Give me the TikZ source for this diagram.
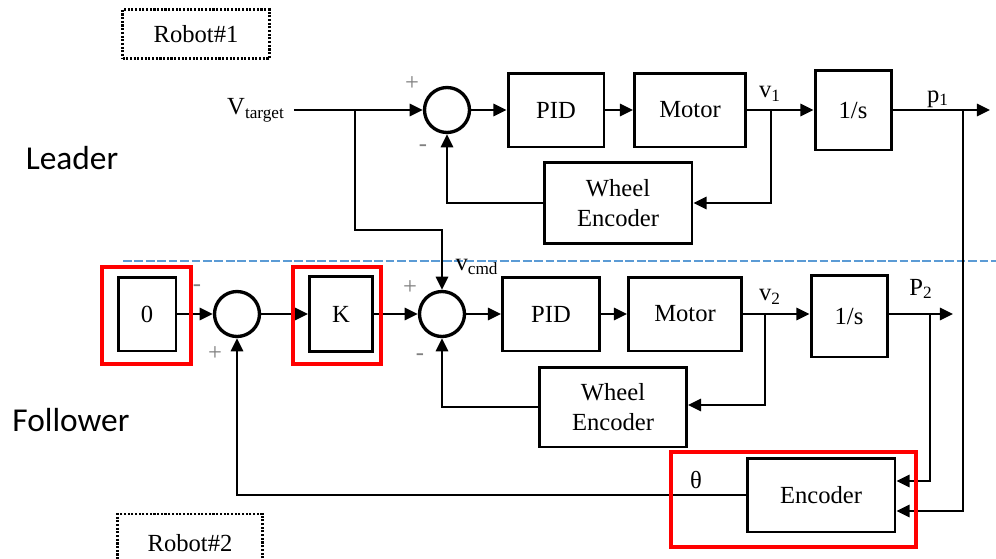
\documentclass[tikz,border=0pt]{standalone}
\usepackage{fontspec}
\setmainfont{Liberation Serif}
\newfontfamily\calibri{Carlito}
\usetikzlibrary{arrows.meta,positioning}

\begin{document}
\begin{tikzpicture}[
    x=0.02cm, y=-0.02cm,
    box/.style={rectangle, draw, line width=1.7pt, align=center, inner sep=0pt, font=\fontsize{14pt}{17pt}\selectfont},
    sum/.style={circle, draw, line width=1.9pt, minimum size=0.9cm, inner sep=0pt},
    arrow/.style={-{Triangle[length=7.5pt,width=7pt]}, line width=1.3pt},
    lbl/.style={inner sep=0pt, font=\fontsize{14pt}{17pt}\selectfont},
    sign/.style={inner sep=0pt, text=gray, font=\fontsize{14pt}{16pt}\selectfont},
    robot/.style={rectangle, draw, line width=1.6pt, dash pattern=on 1.2pt off 0.9pt, inner sep=0pt, font=\fontsize{14pt}{17pt}\selectfont},
    hilite/.style={draw=red, line width=1.8pt},
    side/.style={inner sep=0pt, font=\calibri\fontsize{19pt}{22pt}\selectfont}
]
\useasboundingbox (0,0) rectangle (996,558);
\clip (0,0) rectangle (996,558);

% labels and frames
\node[robot, minimum width=2.94cm, minimum height=0.98cm] (rob1) at (196,34) {Robot\#1};
\node[robot, minimum width=2.9cm, minimum height=1.16cm] (rob2) at (190,543) {Robot\#2};
\node[side] (lead) at (72,158) {Leader};
\node[side] (foll) at (71,420) {Follower};
\draw[dashed, dash pattern=on 5pt off 1.5pt, line width=0.7pt, color={rgb,255:red,91;green,155;blue,213}] (123,261) -- (996,261);

% leader loop
\node[lbl, inner xsep=5pt] (vt) at (256,110) {V\textsubscript{target}};
\node[sum] (sum1) at (447,110) {};
\node[box, minimum width=1.92cm, minimum height=1.48cm] (pid1) at (556,110) {PID};
\node[box, minimum width=2.22cm, minimum height=1.48cm] (mot1) at (690,110) {Motor};
\node[box, minimum width=1.52cm, minimum height=1.6cm] (int1) at (853,110) {1/s};
\node[box, minimum width=2.96cm, minimum height=1.62cm] (wenc1) at (618,203) {Wheel\\Encoder};
\coordinate (vtb) at (355,110);
\coordinate (v1b) at (771,110);
\coordinate (p1b) at (963,110);
\coordinate (p1end) at (990,110);

% follower loop
\node[box, minimum width=1.16cm, minimum height=1.48cm] (zero) at (147,314) {0};
\node[sum] (sum3) at (237,314) {};
\node[box, minimum width=1.26cm, minimum height=1.5cm] (gain) at (341,314) {K};
\node[sum] (sum2) at (442,314) {};
\node[box, minimum width=1.94cm, minimum height=1.48cm] (pid2) at (551,314) {PID};
\node[box, minimum width=2.26cm, minimum height=1.48cm] (mot2) at (685,314) {Motor};
\node[box, minimum width=1.52cm, minimum height=1.64cm] (int2) at (849,316) {1/s};
\node[box, minimum width=2.94cm, minimum height=1.6cm] (wenc2) at (613,407) {Wheel\\Encoder};
\node[box, minimum width=2.96cm, minimum height=1.48cm] (enc) at (821,495) {Encoder};
\coordinate (v2b) at (765,314);
\coordinate (p2b) at (930,314);
\coordinate (p2end) at (953,314);

% signals
\node[lbl] at (770,94) {v\textsubscript{1}};
\node[lbl] at (938,99) {p\textsubscript{1}};
\node[lbl] at (477,267) {v\textsubscript{cmd}};
\node[lbl] at (770,297) {v\textsubscript{2}};
\node[lbl] at (921,289) {P\textsubscript{2}};
\node[lbl] at (696,480) {θ};
\node[sign] at (412,84) {+};
\node[sign] at (423,148) {-};
\node[sign] at (410,288) {+};
\node[sign] at (420,357) {-};
\node[sign] at (197,288) {-};
\node[sign] at (215,354) {+};

\draw[arrow] (vt.east) -- (sum1.west);
\draw[arrow] (sum1) -- (pid1);
\draw[arrow] (pid1) -- (mot1);
\draw[arrow] (mot1) -- (int1);
\draw[arrow] (int1) -- (p1end);
\draw[arrow] (v1b) |- (wenc1.east);
\draw[arrow] (wenc1.west) -| (sum1.south);
\draw[arrow] (vtb) -- ++(0,120) -| (sum2.north);
\draw[arrow] (p1b) |- ([yshift=-0.32cm]enc.east);

\draw[arrow] (zero) -- (sum3);
\draw[arrow] (sum3) -- (gain);
\draw[arrow] (gain) -- (sum2);
\draw[arrow] (sum2) -- (pid2);
\draw[arrow] (pid2) -- (mot2);
\draw[arrow] (mot2.east) -- (int2.west |- mot2.east);
\draw[arrow] (int2.east |- p2end) -- (p2end);
\draw[arrow] (v2b) |- ([yshift=0.04cm]wenc2.east);
\draw[arrow] (wenc2.west) -| (sum2.south);
\draw[arrow] (p2b) |- ([yshift=0.28cm]enc.east);
\draw[arrow] (enc.west) -| (sum3.south);

% highlight frames
\draw[hilite] (102,267) rectangle (191,364);
\draw[hilite] (293,267) rectangle (381,364);
\draw[hilite] (671,452) rectangle (916,547);
\end{tikzpicture}
\end{document}
